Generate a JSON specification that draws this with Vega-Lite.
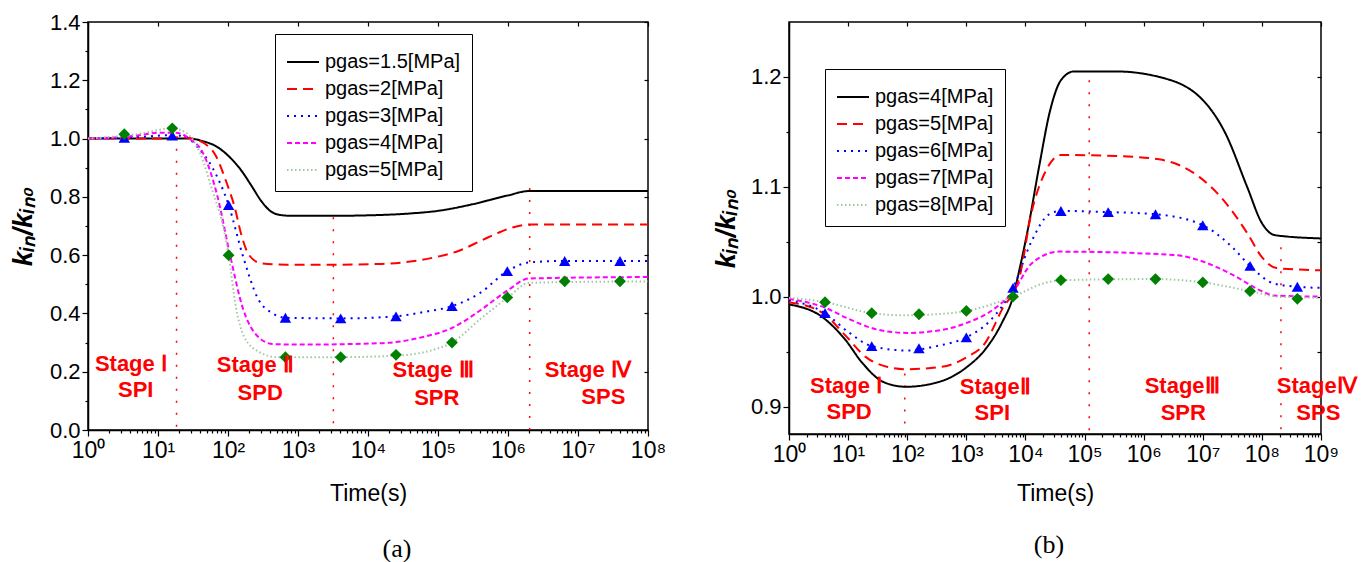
{
  "$schema": "https://vega.github.io/schema/vega-lite/v6.json",
  "padding": {"left": 8, "top": 10, "right": 0, "bottom": 0},
  "spacing": 44,
  "resolve": {"scale": {"color": "independent", "strokeDash": "independent"}, "legend": {"color": "independent", "strokeDash": "independent"}},
  "config": {
    "font": "Liberation Sans",
    "view": {"stroke": "black", "strokeWidth": 1.5},
    "axis": {"domainColor": "black", "domainWidth": 1.5, "tickColor": "black", "tickWidth": 1.2, "labelColor": "black", "labelFontSize": 22, "labelFont": "Liberation Sans", "titleColor": "black", "titleFontSize": 23, "titleFontWeight": "normal", "titleFont": "Liberation Sans", "grid": false, "labelFlush": false, "labelOverlap": false},
    "legend": {"labelFontSize": 20, "labelFont": "Liberation Sans", "labelColor": "black"},
    "title": {"font": "Liberation Serif", "fontSize": 26, "fontWeight": "normal", "color": "black"}
  },
  "datasets": {
    "a_lines": [
      {"s": "pgas=1.5[MPa]", "t": 1, "k": 1.0}, {"s": "pgas=1.5[MPa]", "t": 10, "k": 1.0}, {"s": "pgas=1.5[MPa]", "t": 28, "k": 1.0}, {"s": "pgas=1.5[MPa]", "t": 45, "k": 0.99}, {"s": "pgas=1.5[MPa]", "t": 66, "k": 0.975}, {"s": "pgas=1.5[MPa]", "t": 102, "k": 0.94}, {"s": "pgas=1.5[MPa]", "t": 150, "k": 0.895}, {"s": "pgas=1.5[MPa]", "t": 214, "k": 0.84}, {"s": "pgas=1.5[MPa]", "t": 300, "k": 0.785}, {"s": "pgas=1.5[MPa]", "t": 410, "k": 0.75}, {"s": "pgas=1.5[MPa]", "t": 550, "k": 0.738}, {"s": "pgas=1.5[MPa]", "t": 800, "k": 0.735}, {"s": "pgas=1.5[MPa]", "t": 3000, "k": 0.735}, {"s": "pgas=1.5[MPa]", "t": 15849, "k": 0.738}, {"s": "pgas=1.5[MPa]", "t": 40000, "k": 0.743}, {"s": "pgas=1.5[MPa]", "t": 100000, "k": 0.752}, {"s": "pgas=1.5[MPa]", "t": 316228, "k": 0.775}, {"s": "pgas=1.5[MPa]", "t": 1000000, "k": 0.805}, {"s": "pgas=1.5[MPa]", "t": 2000000, "k": 0.82}, {"s": "pgas=1.5[MPa]", "t": 100000000, "k": 0.82},
      {"s": "pgas=2[MPa]", "t": 1, "k": 1.0}, {"s": "pgas=2[MPa]", "t": 10, "k": 1.0}, {"s": "pgas=2[MPa]", "t": 20, "k": 1.005}, {"s": "pgas=2[MPa]", "t": 30, "k": 1.0}, {"s": "pgas=2[MPa]", "t": 45, "k": 0.985}, {"s": "pgas=2[MPa]", "t": 66, "k": 0.944}, {"s": "pgas=2[MPa]", "t": 95, "k": 0.85}, {"s": "pgas=2[MPa]", "t": 126, "k": 0.76}, {"s": "pgas=2[MPa]", "t": 155, "k": 0.67}, {"s": "pgas=2[MPa]", "t": 200, "k": 0.6}, {"s": "pgas=2[MPa]", "t": 300, "k": 0.572}, {"s": "pgas=2[MPa]", "t": 680, "k": 0.567}, {"s": "pgas=2[MPa]", "t": 3000, "k": 0.567}, {"s": "pgas=2[MPa]", "t": 15849, "k": 0.57}, {"s": "pgas=2[MPa]", "t": 40000, "k": 0.578}, {"s": "pgas=2[MPa]", "t": 100000, "k": 0.595}, {"s": "pgas=2[MPa]", "t": 200000, "k": 0.615}, {"s": "pgas=2[MPa]", "t": 398107, "k": 0.648}, {"s": "pgas=2[MPa]", "t": 700000, "k": 0.675}, {"s": "pgas=2[MPa]", "t": 1000000, "k": 0.69}, {"s": "pgas=2[MPa]", "t": 2000000, "k": 0.705}, {"s": "pgas=2[MPa]", "t": 100000000, "k": 0.705},
      {"s": "pgas=3[MPa]", "t": 1, "k": 1.0}, {"s": "pgas=3[MPa]", "t": 5, "k": 1.005}, {"s": "pgas=3[MPa]", "t": 16, "k": 1.012}, {"s": "pgas=3[MPa]", "t": 25, "k": 1.005}, {"s": "pgas=3[MPa]", "t": 37, "k": 0.97}, {"s": "pgas=3[MPa]", "t": 60, "k": 0.9}, {"s": "pgas=3[MPa]", "t": 102, "k": 0.772}, {"s": "pgas=3[MPa]", "t": 162, "k": 0.6}, {"s": "pgas=3[MPa]", "t": 269, "k": 0.45}, {"s": "pgas=3[MPa]", "t": 437, "k": 0.4}, {"s": "pgas=3[MPa]", "t": 661, "k": 0.385}, {"s": "pgas=3[MPa]", "t": 4074, "k": 0.383}, {"s": "pgas=3[MPa]", "t": 25119, "k": 0.39}, {"s": "pgas=3[MPa]", "t": 63096, "k": 0.405}, {"s": "pgas=3[MPa]", "t": 158489, "k": 0.425}, {"s": "pgas=3[MPa]", "t": 398107, "k": 0.47}, {"s": "pgas=3[MPa]", "t": 977237, "k": 0.545}, {"s": "pgas=3[MPa]", "t": 2000000, "k": 0.575}, {"s": "pgas=3[MPa]", "t": 6456542, "k": 0.58}, {"s": "pgas=3[MPa]", "t": 100000000, "k": 0.58},
      {"s": "pgas=4[MPa]", "t": 1, "k": 1.0}, {"s": "pgas=4[MPa]", "t": 5, "k": 1.01}, {"s": "pgas=4[MPa]", "t": 10, "k": 1.02}, {"s": "pgas=4[MPa]", "t": 18, "k": 1.02}, {"s": "pgas=4[MPa]", "t": 28, "k": 1.0}, {"s": "pgas=4[MPa]", "t": 44, "k": 0.95}, {"s": "pgas=4[MPa]", "t": 71, "k": 0.8}, {"s": "pgas=4[MPa]", "t": 107, "k": 0.6}, {"s": "pgas=4[MPa]", "t": 162, "k": 0.42}, {"s": "pgas=4[MPa]", "t": 269, "k": 0.32}, {"s": "pgas=4[MPa]", "t": 437, "k": 0.295}, {"s": "pgas=4[MPa]", "t": 1000, "k": 0.293}, {"s": "pgas=4[MPa]", "t": 15849, "k": 0.298}, {"s": "pgas=4[MPa]", "t": 63096, "k": 0.32}, {"s": "pgas=4[MPa]", "t": 158489, "k": 0.35}, {"s": "pgas=4[MPa]", "t": 398107, "k": 0.41}, {"s": "pgas=4[MPa]", "t": 1000000, "k": 0.48}, {"s": "pgas=4[MPa]", "t": 2000000, "k": 0.52}, {"s": "pgas=4[MPa]", "t": 100000000, "k": 0.525},
      {"s": "pgas=5[MPa]", "t": 1, "k": 1.0}, {"s": "pgas=5[MPa]", "t": 5, "k": 1.015}, {"s": "pgas=5[MPa]", "t": 16, "k": 1.035}, {"s": "pgas=5[MPa]", "t": 25, "k": 1.02}, {"s": "pgas=5[MPa]", "t": 40, "k": 0.95}, {"s": "pgas=5[MPa]", "t": 60, "k": 0.82}, {"s": "pgas=5[MPa]", "t": 85, "k": 0.7}, {"s": "pgas=5[MPa]", "t": 102, "k": 0.6}, {"s": "pgas=5[MPa]", "t": 130, "k": 0.42}, {"s": "pgas=5[MPa]", "t": 170, "k": 0.32}, {"s": "pgas=5[MPa]", "t": 269, "k": 0.27}, {"s": "pgas=5[MPa]", "t": 500, "k": 0.25}, {"s": "pgas=5[MPa]", "t": 4074, "k": 0.25}, {"s": "pgas=5[MPa]", "t": 25119, "k": 0.255}, {"s": "pgas=5[MPa]", "t": 100000, "k": 0.28}, {"s": "pgas=5[MPa]", "t": 158489, "k": 0.3}, {"s": "pgas=5[MPa]", "t": 398107, "k": 0.38}, {"s": "pgas=5[MPa]", "t": 1000000, "k": 0.455}, {"s": "pgas=5[MPa]", "t": 2000000, "k": 0.505}, {"s": "pgas=5[MPa]", "t": 100000000, "k": 0.51}
    ],
    "a_tri": [
      {"t": 3.3, "k": 1.003}, {"t": 16, "k": 1.01}, {"t": 102, "k": 0.772}, {"t": 661, "k": 0.385}, {"t": 4074, "k": 0.383}, {"t": 25119, "k": 0.39}, {"t": 158489, "k": 0.425}, {"t": 977237, "k": 0.545}, {"t": 6456542, "k": 0.58}, {"t": 39810717, "k": 0.58}
    ],
    "a_dia": [
      {"t": 3.3, "k": 1.015}, {"t": 16, "k": 1.035}, {"t": 102, "k": 0.6}, {"t": 661, "k": 0.25}, {"t": 4074, "k": 0.25}, {"t": 25119, "k": 0.258}, {"t": 158489, "k": 0.3}, {"t": 977237, "k": 0.455}, {"t": 6456542, "k": 0.51}, {"t": 39810717, "k": 0.51}
    ],
    "a_rules": [
      {"t": 18.4, "k": 0.965, "k2": 0}, {"t": 3200, "k": 0.73, "k2": 0}, {"t": 2040000, "k": 0.83, "k2": 0}
    ],
    "a_text": [
      {"label": "Stage Ⅰ", "t": 4.1, "k": 0.227}, {"label": "SPI", "t": 4.8, "k": 0.137},
      {"label": "Stage Ⅱ", "t": 245, "k": 0.223}, {"label": "SPD", "t": 288, "k": 0.127},
      {"label": "Stage Ⅲ", "t": 85000, "k": 0.206}, {"label": "SPR", "t": 96000, "k": 0.11},
      {"label": "Stage Ⅳ", "t": 13800000, "k": 0.206}, {"label": "SPS", "t": 23000000, "k": 0.113}
    ],
    "b_lines": [
      {"s": "pgas=4[MPa]", "t": 1, "k": 0.993}, {"s": "pgas=4[MPa]", "t": 3.76, "k": 0.981}, {"s": "pgas=4[MPa]", "t": 8.9, "k": 0.961}, {"s": "pgas=4[MPa]", "t": 17.2, "k": 0.94}, {"s": "pgas=4[MPa]", "t": 40.7, "k": 0.922}, {"s": "pgas=4[MPa]", "t": 95.5, "k": 0.918}, {"s": "pgas=4[MPa]", "t": 372, "k": 0.923}, {"s": "pgas=4[MPa]", "t": 1023, "k": 0.936}, {"s": "pgas=4[MPa]", "t": 2089, "k": 0.952}, {"s": "pgas=4[MPa]", "t": 3981, "k": 0.976}, {"s": "pgas=4[MPa]", "t": 6166, "k": 1.0}, {"s": "pgas=4[MPa]", "t": 7943, "k": 1.025}, {"s": "pgas=4[MPa]", "t": 10965, "k": 1.061}, {"s": "pgas=4[MPa]", "t": 16982, "k": 1.118}, {"s": "pgas=4[MPa]", "t": 26303, "k": 1.17}, {"s": "pgas=4[MPa]", "t": 39811, "k": 1.197}, {"s": "pgas=4[MPa]", "t": 66069, "k": 1.205}, {"s": "pgas=4[MPa]", "t": 338844, "k": 1.205}, {"s": "pgas=4[MPa]", "t": 1819701, "k": 1.2}, {"s": "pgas=4[MPa]", "t": 10000000, "k": 1.179}, {"s": "pgas=4[MPa]", "t": 23988329, "k": 1.149}, {"s": "pgas=4[MPa]", "t": 56234133, "k": 1.1}, {"s": "pgas=4[MPa]", "t": 100000000, "k": 1.067}, {"s": "pgas=4[MPa]", "t": 165958691, "k": 1.056}, {"s": "pgas=4[MPa]", "t": 1000000000, "k": 1.053},
      {"s": "pgas=5[MPa]", "t": 1, "k": 0.995}, {"s": "pgas=5[MPa]", "t": 3.76, "k": 0.985}, {"s": "pgas=5[MPa]", "t": 8.9, "k": 0.965}, {"s": "pgas=5[MPa]", "t": 20, "k": 0.945}, {"s": "pgas=5[MPa]", "t": 46.8, "k": 0.936}, {"s": "pgas=5[MPa]", "t": 95.5, "k": 0.934}, {"s": "pgas=5[MPa]", "t": 372, "k": 0.936}, {"s": "pgas=5[MPa]", "t": 1023, "k": 0.945}, {"s": "pgas=5[MPa]", "t": 2089, "k": 0.958}, {"s": "pgas=5[MPa]", "t": 3981, "k": 0.988}, {"s": "pgas=5[MPa]", "t": 7943, "k": 1.018}, {"s": "pgas=5[MPa]", "t": 12589, "k": 1.076}, {"s": "pgas=5[MPa]", "t": 21380, "k": 1.113}, {"s": "pgas=5[MPa]", "t": 39811, "k": 1.129}, {"s": "pgas=5[MPa]", "t": 338844, "k": 1.128}, {"s": "pgas=5[MPa]", "t": 1819701, "k": 1.125}, {"s": "pgas=5[MPa]", "t": 8709636, "k": 1.109}, {"s": "pgas=5[MPa]", "t": 19952623, "k": 1.091}, {"s": "pgas=5[MPa]", "t": 56234133, "k": 1.058}, {"s": "pgas=5[MPa]", "t": 100000000, "k": 1.036}, {"s": "pgas=5[MPa]", "t": 177827941, "k": 1.026}, {"s": "pgas=5[MPa]", "t": 1000000000, "k": 1.024},
      {"s": "pgas=6[MPa]", "t": 1, "k": 0.997}, {"s": "pgas=6[MPa]", "t": 4.07, "k": 0.985}, {"s": "pgas=6[MPa]", "t": 10, "k": 0.968}, {"s": "pgas=6[MPa]", "t": 25.1, "k": 0.955}, {"s": "pgas=6[MPa]", "t": 100, "k": 0.951}, {"s": "pgas=6[MPa]", "t": 316, "k": 0.955}, {"s": "pgas=6[MPa]", "t": 1000, "k": 0.963}, {"s": "pgas=6[MPa]", "t": 2512, "k": 0.978}, {"s": "pgas=6[MPa]", "t": 6166, "k": 1.008}, {"s": "pgas=6[MPa]", "t": 12589, "k": 1.05}, {"s": "pgas=6[MPa]", "t": 25119, "k": 1.075}, {"s": "pgas=6[MPa]", "t": 39811, "k": 1.078}, {"s": "pgas=6[MPa]", "t": 251189, "k": 1.077}, {"s": "pgas=6[MPa]", "t": 1584893, "k": 1.075}, {"s": "pgas=6[MPa]", "t": 10000000, "k": 1.065}, {"s": "pgas=6[MPa]", "t": 31622777, "k": 1.045}, {"s": "pgas=6[MPa]", "t": 63095734, "k": 1.028}, {"s": "pgas=6[MPa]", "t": 158489319, "k": 1.012}, {"s": "pgas=6[MPa]", "t": 398107171, "k": 1.009}, {"s": "pgas=6[MPa]", "t": 1000000000, "k": 1.008},
      {"s": "pgas=7[MPa]", "t": 1, "k": 0.998}, {"s": "pgas=7[MPa]", "t": 4.07, "k": 0.99}, {"s": "pgas=7[MPa]", "t": 10, "k": 0.98}, {"s": "pgas=7[MPa]", "t": 31.6, "k": 0.97}, {"s": "pgas=7[MPa]", "t": 100, "k": 0.967}, {"s": "pgas=7[MPa]", "t": 316, "k": 0.969}, {"s": "pgas=7[MPa]", "t": 1000, "k": 0.976}, {"s": "pgas=7[MPa]", "t": 3162, "k": 0.99}, {"s": "pgas=7[MPa]", "t": 6310, "k": 1.005}, {"s": "pgas=7[MPa]", "t": 12589, "k": 1.03}, {"s": "pgas=7[MPa]", "t": 37154, "k": 1.041}, {"s": "pgas=7[MPa]", "t": 3162278, "k": 1.038}, {"s": "pgas=7[MPa]", "t": 10000000, "k": 1.032}, {"s": "pgas=7[MPa]", "t": 31622777, "k": 1.02}, {"s": "pgas=7[MPa]", "t": 100000000, "k": 1.005}, {"s": "pgas=7[MPa]", "t": 158489319, "k": 1.001}, {"s": "pgas=7[MPa]", "t": 1000000000, "k": 1.0},
      {"s": "pgas=8[MPa]", "t": 1, "k": 0.999}, {"s": "pgas=8[MPa]", "t": 4.07, "k": 0.995}, {"s": "pgas=8[MPa]", "t": 25.1, "k": 0.985}, {"s": "pgas=8[MPa]", "t": 100, "k": 0.983}, {"s": "pgas=8[MPa]", "t": 316, "k": 0.984}, {"s": "pgas=8[MPa]", "t": 1000, "k": 0.987}, {"s": "pgas=8[MPa]", "t": 6166, "k": 1.0}, {"s": "pgas=8[MPa]", "t": 19953, "k": 1.012}, {"s": "pgas=8[MPa]", "t": 39811, "k": 1.015}, {"s": "pgas=8[MPa]", "t": 1584893, "k": 1.016}, {"s": "pgas=8[MPa]", "t": 10000000, "k": 1.013}, {"s": "pgas=8[MPa]", "t": 63095734, "k": 1.005}, {"s": "pgas=8[MPa]", "t": 199526231, "k": 1.0}, {"s": "pgas=8[MPa]", "t": 1000000000, "k": 0.999}
    ],
    "b_tri": [
      {"t": 4.07, "k": 0.985}, {"t": 25.1, "k": 0.955}, {"t": 158, "k": 0.953}, {"t": 1000, "k": 0.963}, {"t": 6166, "k": 1.008}, {"t": 39811, "k": 1.078}, {"t": 251189, "k": 1.077}, {"t": 1584893, "k": 1.075}, {"t": 10000000, "k": 1.065}, {"t": 63095734, "k": 1.028}, {"t": 398107171, "k": 1.009}
    ],
    "b_dia": [
      {"t": 4.07, "k": 0.995}, {"t": 25.1, "k": 0.985}, {"t": 158, "k": 0.984}, {"t": 1000, "k": 0.987}, {"t": 6166, "k": 1.0}, {"t": 39811, "k": 1.015}, {"t": 251189, "k": 1.016}, {"t": 1584893, "k": 1.016}, {"t": 10000000, "k": 1.013}, {"t": 63095734, "k": 1.005}, {"t": 398107171, "k": 0.998}
    ],
    "b_rules": [
      {"t": 91, "k": 0.93, "k2": 0.875}, {"t": 120000, "k": 1.197, "k2": 0.875}, {"t": 210000000, "k": 1.045, "k2": 0.875}
    ],
    "b_text": [
      {"label": "Stage Ⅰ", "t": 9.2, "k": 0.919}, {"label": "SPD", "t": 10.4, "k": 0.895},
      {"label": "StageⅡ", "t": 3090, "k": 0.918}, {"label": "SPI", "t": 2750, "k": 0.894},
      {"label": "StageⅢ", "t": 4470000, "k": 0.919}, {"label": "SPR", "t": 4680000, "k": 0.894},
      {"label": "StageⅣ", "t": 850000000, "k": 0.919}, {"label": "SPS", "t": 900000000, "k": 0.894}
    ]
  },
  "hconcat": [
    {
      "width": 560,
      "height": 408,
      "title": {"text": "(a)", "orient": "bottom", "offset": 31, "dx": 29},
      "resolve": {"axis": {"x": "independent", "y": "independent"}},
      "layer": [
        {
          "data": {"name": "a_rules"},
          "mark": {"type": "rule", "color": "#ff0000", "strokeDash": [2, 10], "strokeWidth": 1.5},
          "encoding": {
            "x": {"field": "t", "type": "quantitative", "scale": {"type": "log", "domain": [1, 100000000], "nice": false},
              "axis": {"orient": "bottom", "values": [1, 10, 100, 1000, 10000, 100000, 1000000, 10000000, 100000000], "labelExpr": "'10' + substring('⁰¹²³⁴⁵⁶⁷⁸⁹', round(log(datum.value)/LN10), round(log(datum.value)/LN10) + 1)", "tickSize": 6, "labelPadding": 3, "labelFontSize": 23, "title": "Time(s)", "titlePadding": 20}},
            "y": {"field": "k", "type": "quantitative", "scale": {"domain": [0, 1.4], "nice": false, "zero": false},
              "axis": {"orient": "left", "values": [0, 0.2, 0.4, 0.6, 0.8, 1.0, 1.2, 1.4], "format": ".1f", "tickSize": 6, "labelPadding": 2, "title": "kᵢₙ/kᵢₙ₀", "titleFontSize": 27, "titleFontStyle": "italic", "titleFontWeight": "bold", "titlePadding": 12}},
            "y2": {"field": "k2"}
          }
        },
        {
          "data": {"name": "a_rules"},
          "mark": {"type": "point", "opacity": 0},
          "encoding": {
            "x": {"field": "t", "type": "quantitative", "scale": {"type": "log", "domain": [1, 100000000], "nice": false},
              "axis": {"orient": "bottom", "values": [2,3,4,5,6,7,8,9,20,30,40,50,60,70,80,90,200,300,400,500,600,700,800,900,2000,3000,4000,5000,6000,7000,8000,9000,20000,30000,40000,50000,60000,70000,80000,90000,200000,300000,400000,500000,600000,700000,800000,900000,2000000,3000000,4000000,5000000,6000000,7000000,8000000,9000000,20000000,30000000,40000000,50000000,60000000,70000000,80000000,90000000], "labels": false, "domain": false, "tickSize": 3, "title": null}},
            "y": {"field": "k", "type": "quantitative", "scale": {"domain": [0, 1.4], "nice": false, "zero": false},
              "axis": {"orient": "left", "values": [0.1, 0.3, 0.5, 0.7, 0.9, 1.1, 1.3], "labels": false, "domain": false, "tickSize": 3, "title": null}}
          }
        },
        {
          "data": {"name": "a_rules"},
          "mark": {"type": "point", "opacity": 0},
          "encoding": {
            "x": {"field": "t", "type": "quantitative", "scale": {"type": "log", "domain": [1, 100000000], "nice": false},
              "axis": {"orient": "top", "values": [1, 10, 100, 1000, 10000, 100000, 1000000, 10000000, 100000000], "labels": false, "domain": false, "tickSize": -4, "title": null}},
            "y": {"field": "k", "type": "quantitative", "scale": {"domain": [0, 1.4], "nice": false, "zero": false},
              "axis": {"orient": "right", "values": [0, 0.2, 0.4, 0.6, 0.8, 1.0, 1.2, 1.4], "labels": false, "domain": false, "tickSize": -4, "title": null}}
          }
        },
        {
          "data": {"name": "a_lines"},
          "mark": {"type": "line", "strokeWidth": 2, "interpolate": "monotone"},
          "encoding": {
            "x": {"field": "t", "type": "quantitative", "scale": {"type": "log", "domain": [1, 100000000], "nice": false}, "axis": null},
            "y": {"field": "k", "type": "quantitative", "scale": {"domain": [0, 1.4], "nice": false, "zero": false}, "axis": null},
            "color": {"field": "s", "type": "nominal",
              "scale": {"domain": ["pgas=1.5[MPa]", "pgas=2[MPa]", "pgas=3[MPa]", "pgas=4[MPa]", "pgas=5[MPa]"], "range": ["#000000", "#ff0000", "#0000ff", "#ff00ff", "#9ec89e"]},
              "legend": {"title": null, "orient": "none", "legendX": 187, "legendY": 12, "symbolType": "stroke", "symbolSize": 1024, "symbolStrokeWidth": 2, "strokeColor": "black", "fillColor": "white", "padding": 11, "rowPadding": 0, "labelOffset": 5}},
            "strokeDash": {"field": "s", "type": "nominal",
              "scale": {"domain": ["pgas=1.5[MPa]", "pgas=2[MPa]", "pgas=3[MPa]", "pgas=4[MPa]", "pgas=5[MPa]"], "range": [[1, 0], [10, 6], [2, 5], [5, 3], [1.5, 2.5]]},
              "legend": {"title": null, "orient": "none", "legendX": 187, "legendY": 12, "symbolType": "stroke", "symbolSize": 1024, "symbolStrokeWidth": 2, "strokeColor": "black", "fillColor": "white", "padding": 11, "rowPadding": 0, "labelOffset": 5}}
          }
        },
        {
          "data": {"name": "a_tri"},
          "mark": {"type": "point", "shape": "triangle-up", "filled": true, "color": "#0000ff", "size": 130, "opacity": 1},
          "encoding": {
            "x": {"field": "t", "type": "quantitative", "scale": {"type": "log", "domain": [1, 100000000], "nice": false}, "axis": null},
            "y": {"field": "k", "type": "quantitative", "scale": {"domain": [0, 1.4], "nice": false, "zero": false}, "axis": null}
          }
        },
        {
          "data": {"name": "a_dia"},
          "mark": {"type": "point", "shape": "diamond", "filled": true, "color": "#008000", "size": 140, "opacity": 1},
          "encoding": {
            "x": {"field": "t", "type": "quantitative", "scale": {"type": "log", "domain": [1, 100000000], "nice": false}, "axis": null},
            "y": {"field": "k", "type": "quantitative", "scale": {"domain": [0, 1.4], "nice": false, "zero": false}, "axis": null}
          }
        },
        {
          "data": {"name": "a_text"},
          "mark": {"type": "text", "color": "#ff0000", "fontWeight": "bold", "fontSize": 22, "font": "Liberation Sans", "align": "center", "baseline": "middle"},
          "encoding": {
            "x": {"field": "t", "type": "quantitative", "scale": {"type": "log", "domain": [1, 100000000], "nice": false}, "axis": null},
            "y": {"field": "k", "type": "quantitative", "scale": {"domain": [0, 1.4], "nice": false, "zero": false}, "axis": null},
            "text": {"field": "label"}
          }
        }
      ]
    },
    {
      "width": 532,
      "height": 412,
      "title": {"text": "(b)", "orient": "bottom", "offset": 27, "dx": -6},
      "resolve": {"axis": {"x": "independent", "y": "independent"}},
      "layer": [
        {
          "data": {"name": "b_rules"},
          "mark": {"type": "rule", "color": "#ff0000", "strokeDash": [2, 10], "strokeWidth": 1.5},
          "encoding": {
            "x": {"field": "t", "type": "quantitative", "scale": {"type": "log", "domain": [1, 1000000000], "nice": false},
              "axis": {"orient": "bottom", "values": [1, 10, 100, 1000, 10000, 100000, 1000000, 10000000, 100000000, 1000000000], "labelExpr": "'10' + substring('⁰¹²³⁴⁵⁶⁷⁸⁹', round(log(datum.value)/LN10), round(log(datum.value)/LN10) + 1)", "tickSize": 6, "labelPadding": 3, "labelFontSize": 23, "title": "Time(s)", "titlePadding": 16}},
            "y": {"field": "k", "type": "quantitative", "scale": {"domain": [0.875, 1.25], "nice": false, "zero": false},
              "axis": {"orient": "left", "values": [0.9, 1.0, 1.1, 1.2], "format": ".1f", "tickSize": 6, "labelPadding": 2, "title": "kᵢₙ/kᵢₙ₀", "titleFontSize": 27, "titleFontStyle": "italic", "titleFontWeight": "bold", "titlePadding": 10}},
            "y2": {"field": "k2"}
          }
        },
        {
          "data": {"name": "b_rules"},
          "mark": {"type": "point", "opacity": 0},
          "encoding": {
            "x": {"field": "t", "type": "quantitative", "scale": {"type": "log", "domain": [1, 1000000000], "nice": false},
              "axis": {"orient": "bottom", "values": [2,3,4,5,6,7,8,9,20,30,40,50,60,70,80,90,200,300,400,500,600,700,800,900,2000,3000,4000,5000,6000,7000,8000,9000,20000,30000,40000,50000,60000,70000,80000,90000,200000,300000,400000,500000,600000,700000,800000,900000,2000000,3000000,4000000,5000000,6000000,7000000,8000000,9000000,20000000,30000000,40000000,50000000,60000000,70000000,80000000,90000000,200000000,300000000,400000000,500000000,600000000,700000000,800000000,900000000], "labels": false, "domain": false, "tickSize": 3, "title": null}},
            "y": {"field": "k", "type": "quantitative", "scale": {"domain": [0.875, 1.25], "nice": false, "zero": false},
              "axis": {"orient": "left", "values": [0.95, 1.05, 1.15], "labels": false, "domain": false, "tickSize": 3, "title": null}}
          }
        },
        {
          "data": {"name": "b_rules"},
          "mark": {"type": "point", "opacity": 0},
          "encoding": {
            "x": {"field": "t", "type": "quantitative", "scale": {"type": "log", "domain": [1, 1000000000], "nice": false},
              "axis": {"orient": "top", "values": [1, 10, 100, 1000, 10000, 100000, 1000000, 10000000, 100000000, 1000000000], "labels": false, "domain": false, "tickSize": -4, "title": null}},
            "y": {"field": "k", "type": "quantitative", "scale": {"domain": [0.875, 1.25], "nice": false, "zero": false},
              "axis": {"orient": "right", "values": [0.9, 0.95, 1.0, 1.05, 1.1, 1.15, 1.2], "labels": false, "domain": false, "tickSize": -4, "title": null}}
          }
        },
        {
          "data": {"name": "b_lines"},
          "mark": {"type": "line", "strokeWidth": 2, "interpolate": "monotone"},
          "encoding": {
            "x": {"field": "t", "type": "quantitative", "scale": {"type": "log", "domain": [1, 1000000000], "nice": false}, "axis": null},
            "y": {"field": "k", "type": "quantitative", "scale": {"domain": [0.875, 1.25], "nice": false, "zero": false}, "axis": null},
            "color": {"field": "s", "type": "nominal",
              "scale": {"domain": ["pgas=4[MPa]", "pgas=5[MPa]", "pgas=6[MPa]", "pgas=7[MPa]", "pgas=8[MPa]"], "range": ["#000000", "#ff0000", "#0000ff", "#ff00ff", "#9ec89e"]},
              "legend": {"title": null, "orient": "none", "legendX": 36, "legendY": 47, "symbolType": "stroke", "symbolSize": 1024, "symbolStrokeWidth": 2, "strokeColor": "black", "fillColor": "white", "padding": 11, "rowPadding": 0, "labelOffset": 5}},
            "strokeDash": {"field": "s", "type": "nominal",
              "scale": {"domain": ["pgas=4[MPa]", "pgas=5[MPa]", "pgas=6[MPa]", "pgas=7[MPa]", "pgas=8[MPa]"], "range": [[1, 0], [10, 6], [2, 5], [5, 3], [1.5, 2.5]]},
              "legend": {"title": null, "orient": "none", "legendX": 36, "legendY": 47, "symbolType": "stroke", "symbolSize": 1024, "symbolStrokeWidth": 2, "strokeColor": "black", "fillColor": "white", "padding": 11, "rowPadding": 0, "labelOffset": 5}}
          }
        },
        {
          "data": {"name": "b_tri"},
          "mark": {"type": "point", "shape": "triangle-up", "filled": true, "color": "#0000ff", "size": 130, "opacity": 1},
          "encoding": {
            "x": {"field": "t", "type": "quantitative", "scale": {"type": "log", "domain": [1, 1000000000], "nice": false}, "axis": null},
            "y": {"field": "k", "type": "quantitative", "scale": {"domain": [0.875, 1.25], "nice": false, "zero": false}, "axis": null}
          }
        },
        {
          "data": {"name": "b_dia"},
          "mark": {"type": "point", "shape": "diamond", "filled": true, "color": "#008000", "size": 140, "opacity": 1},
          "encoding": {
            "x": {"field": "t", "type": "quantitative", "scale": {"type": "log", "domain": [1, 1000000000], "nice": false}, "axis": null},
            "y": {"field": "k", "type": "quantitative", "scale": {"domain": [0.875, 1.25], "nice": false, "zero": false}, "axis": null}
          }
        },
        {
          "data": {"name": "b_text"},
          "mark": {"type": "text", "color": "#ff0000", "fontWeight": "bold", "fontSize": 22, "font": "Liberation Sans", "align": "center", "baseline": "middle"},
          "encoding": {
            "x": {"field": "t", "type": "quantitative", "scale": {"type": "log", "domain": [1, 1000000000], "nice": false}, "axis": null},
            "y": {"field": "k", "type": "quantitative", "scale": {"domain": [0.875, 1.25], "nice": false, "zero": false}, "axis": null},
            "text": {"field": "label"}
          }
        }
      ]
    }
  ]
}
